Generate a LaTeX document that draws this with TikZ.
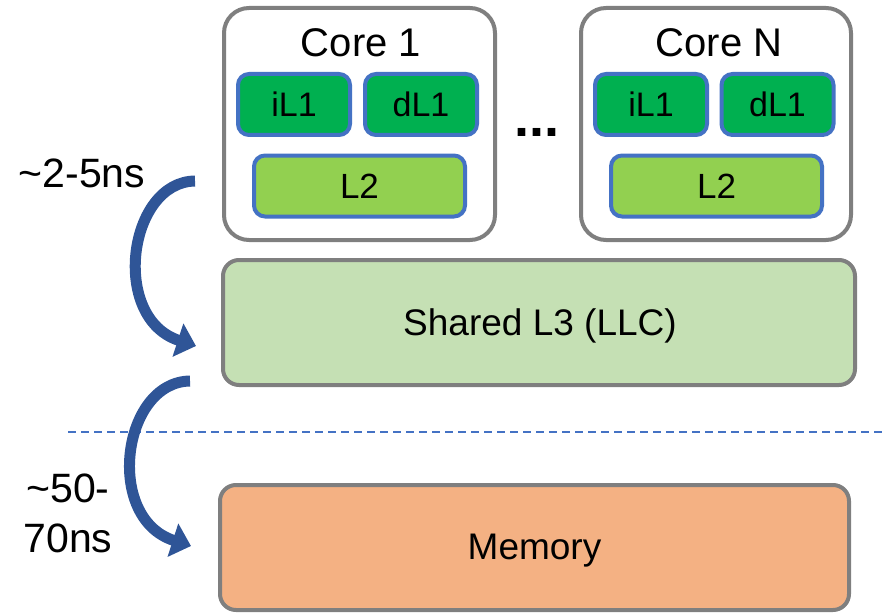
\documentclass[tikz,border=0pt]{standalone}
\usepackage{fontspec}
\setmainfont{Liberation Sans}
\usetikzlibrary{arrows.meta}
\definecolor{boxgray}{RGB}{127,127,127}
\definecolor{cacheblue}{RGB}{68,114,196}
\definecolor{dkgreen}{RGB}{0,176,80}
\definecolor{ltgreen}{RGB}{146,208,80}
\definecolor{llcgreen}{RGB}{197,224,180}
\definecolor{memorange}{RGB}{244,177,131}
\definecolor{arrowblue}{RGB}{47,85,151}
\tikzset{
  corebox/.style={draw=boxgray, line width=4pt, rounded corners=25pt, fill=white,
    minimum width=271pt, minimum height=232pt, inner sep=0pt},
  lonebox/.style={draw=cacheblue, line width=4pt, rounded corners=11pt, fill=dkgreen,
    minimum width=112pt, minimum height=61pt, inner sep=0pt,
    font=\fontsize{34}{40}\selectfont},
  ltwobox/.style={draw=cacheblue, line width=4pt, rounded corners=11pt, fill=ltgreen,
    minimum width=211pt, minimum height=61pt, inner sep=0pt,
    font=\fontsize{35}{40}\selectfont},
  bigbox/.style={draw=boxgray, line width=4pt, rounded corners=16pt,
    minimum width=632pt, minimum height=125pt, inner sep=0pt},
  bigtext/.style={font=\fontsize{37}{44}\selectfont, inner sep=0pt},
  corelabel/.style={font=\fontsize{40}{48}\selectfont, inner sep=0pt},
  latlabel/.style={font=\fontsize{41}{50}\selectfont, inner sep=0pt, align=center},
  curvearrow/.style={draw=arrowblue, line width=11pt,
    -{Triangle[width=34pt,length=19pt]}},
  sepline/.style={draw=cacheblue, line width=2pt, dash pattern=on 8pt off 5pt}
}
\begin{document}
\begin{tikzpicture}[x=1pt,y=-1pt]
\useasboundingbox (0,0) rectangle (883,615);
% cores
\node[corebox] (core1) at (359.5,124) {};
\node[corelabel] (core1t) at (361,43) {Core 1};
\node[lonebox] (il1a) at (294,104.5) {iL1};
\node[lonebox] (dl1a) at (421,104.5) {dL1};
\node[ltwobox] (l2a) at (359.5,186) {L2};

\node[corebox, minimum width=270pt] (coren) at (716,124) {};
\node[corelabel] (corent) at (719,43) {Core N};
\node[lonebox] (il1b) at (651,104.5) {iL1};
\node[lonebox] (dl1b) at (777.5,104.5) {dL1};
\node[ltwobox] (l2b) at (716.5,186) {L2};

\node[font=\bfseries\fontsize{54}{60}\selectfont, inner sep=0pt] (dots) at (537,132) {...};

% shared and memory
\node[bigbox, fill=llcgreen] (llc) at (539,322.5) {};
\node[bigtext] (llct) at (540,326) {Shared L3 (LLC)};
\node[bigbox, fill=memorange, minimum width=629pt] (mem) at (534.5,547.5) {};
\node[bigtext] (memt) at (534.5,551) {Memory};

% separator
\coordinate (sepl) at (68,432);
\coordinate (sepr) at (883,432);
\draw[sepline] (sepl) -- (sepr);

% latency arrows
\coordinate (a1s) at (195,181);
\coordinate (a1e) at (196,346);
\coordinate (a2s) at (190,381);
\coordinate (a2e) at (191,546);
\draw[curvearrow] (a1s) .. controls (128,182) and (110,318) .. (a1e);
\draw[curvearrow] (a2s) .. controls (122,382) and (104,518) .. (a2e);

\node[latlabel] (lat1) at (82,173) {\textasciitilde2-5ns};
\node[latlabel] (lat2) at (68,513) {\textasciitilde50-\\70ns};
\end{tikzpicture}
\end{document}
